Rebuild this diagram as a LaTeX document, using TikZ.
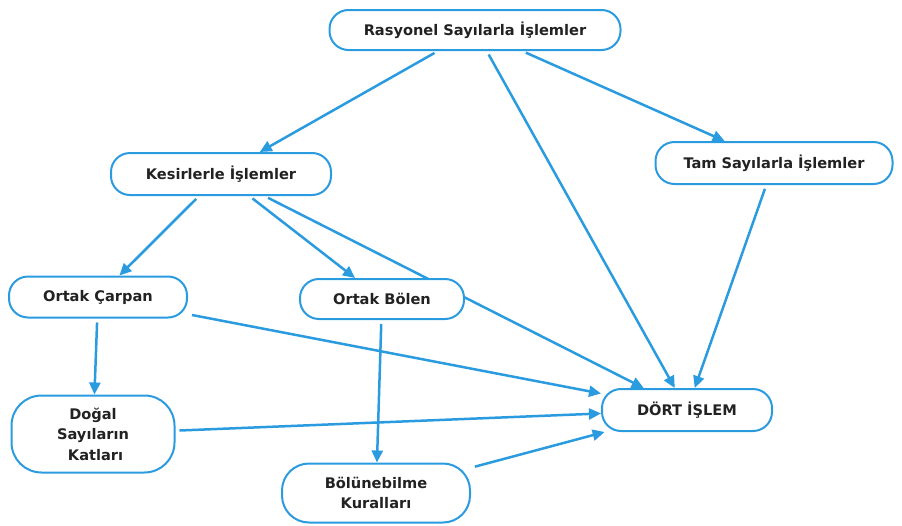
\documentclass[tikz,border=0pt]{standalone}
\usepackage{fontspec}
\setmainfont{DejaVu Sans}
\usetikzlibrary{arrows.meta}
\definecolor{linkblue}{HTML}{2B9BE0}
\definecolor{inkgray}{HTML}{222222}
\tikzset{
  box/.style={draw=linkblue, line width=2pt, fill=white, rounded corners=19pt,
    font=\bfseries\fontsize{14.6}{20.5}\selectfont, text=inkgray, align=center,
    inner sep=2pt},
  link/.style={draw=linkblue, line width=2.5pt, shorten <=4pt,
    -{Triangle[length=12pt,width=11pt]}},
}
\begin{document}
\begin{tikzpicture}[x=1pt,y=-1pt]
\useasboundingbox (0,0) rectangle (902,525);
% the long link from Kesirlerle runs behind Ortak Bölen, so it is drawn first
\coordinate (kesc) at (221,174);
\coordinate (dortc) at (687,410);
% nodes
\node[box, minimum width=291pt, minimum height=40pt] (ras) at (475,30) {Rasyonel Sayılarla İşlemler};
\node[box, minimum width=237pt, minimum height=42pt] (tam) at (774,163) {Tam Sayılarla İşlemler};
\node[box, minimum width=220pt, minimum height=42pt] (kes) at (kesc) {Kesirlerle İşlemler};
\node[box, minimum width=170pt, minimum height=42pt] (dort) at (dortc) {DÖRT İŞLEM};
\draw[link] (kes) -- (dort);
\node[box, minimum width=178pt, minimum height=41pt] (carp) at (98,297) {Ortak Çarpan};
\node[box, minimum width=164pt, minimum height=40pt] (bol) at (382,299) {Ortak Bölen};
\node[box, minimum width=163pt, minimum height=77pt, rounded corners=30pt] (dogal) at (93,434) {Doğal\\Sayıların\\\ Katları};
\node[box, minimum width=188pt, minimum height=59pt, rounded corners=27pt] (kur) at (376,493) {Bölünebilme\\Kuralları};
% connectors
\draw[link] (ras) -- (kes);
\draw[link] (ras) -- (dort);
\draw[link] (ras) -- (tam);
\draw[link] (tam) -- (dort);
\draw[link] (kes) -- (carp);
\draw[link] (kes) -- (bol);
\draw[link] (carp) -- (dort);
\draw[link] (carp) -- (dogal);
\draw[link] (bol) -- (kur);
\draw[link] (dogal) -- (dort);
\draw[link] (kur) -- (dort);
\end{tikzpicture}
\end{document}
